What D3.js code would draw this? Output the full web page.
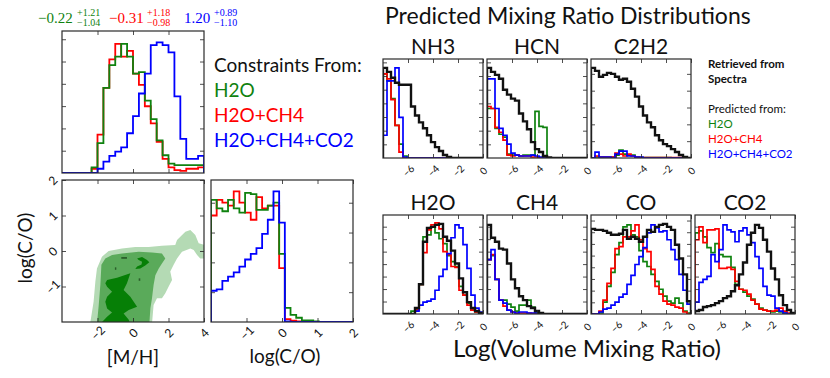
<!DOCTYPE html>
<html>
<head>
<meta charset="utf-8">
<style>
body { margin:0; background:#fff; }
text { font-family: Lato, "Open Sans", sans-serif; }
.num { font-family: "Liberation Serif", "DejaVu Serif", serif; }
</style>
<script src="https://cdnjs.cloudflare.com/ajax/libs/d3/7.8.5/d3.min.js"></script>
</head>
<body>
<script>
// ---- data (bin heights as fraction of the panel height) ----
var mhGreen = [0,0,0,0,0,0.04,0.21,0.60,0.76,0.82,0.91,0.82,0.70,0.71,0.51,0.38,0.23,0.125,0.066,0.055,0.055,0.055,0.055,0.055];
var mhRed   = [0,0,0,0,0,0.03,0.27,0.60,0.80,0.91,0.82,0.86,0.70,0.62,0.47,0.35,0.22,0.10,0.04,0.02,0.015,0.03,0.03,0.04];
var mhBlue  = [0,0,0,0,0,0,0.03,0.08,0.12,0.15,0.18,0.28,0.40,0.56,0.70,0.90,0.92,0.90,0.85,0.54,0.24,0.10,0.10,0.12];

var coGreen = [0.86,0.80,0.78,0.86,0.80,0.77,0.91,0.90,0.79,0.79,0.82,0.84,0.48,0.10,0.05,0.03,0.012,0.012,0.005,0,0,0,0,0,0];
var coRed   = [0.75,0.86,0.84,0.82,0.92,0.84,0.77,0.72,0.88,0.80,0.82,0.82,0.38,0.02,0.01,0.005,0,0,0,0,0,0,0,0,0];
var coBlue  = [0.22,0.23,0.29,0.32,0.35,0.39,0.44,0.48,0.52,0.62,0.72,0.92,0.70,0.005,0,0,0,0,0,0,0,0,0,0,0];

var summaries = [
  {med:"\u22120.22", up:"+1.21", lo:"\u22121.04"},
  {med:"\u22120.31", up:"+1.18", lo:"\u22120.98"},
  {med:"1.20", up:"+0.89", lo:"\u22121.10"}
];

// contour regions in ([M/H], log C/O)
var contourLight = [[-2.40,-2.0],[-2.22,-1.43],[-2.12,-0.86],[-2.03,-0.49],[-1.75,-0.16],[-1.37,0.0],[-0.62,0.07],[0.13,0.11],[0.88,0.11],[1.63,0.15],[2.38,0.17],[2.48,0.31],[2.95,0.54],[3.23,0.59],[3.51,0.45],[3.70,0.22],[4.05,0.17],[4.05,-0.21],[3.79,-0.21],[3.61,-0.11],[3.42,0.03],[3.23,0.07],[2.76,-0.02],[2.48,-0.21],[2.29,-0.39],[2.10,-0.58],[2.20,-0.82],[2.01,-1.0],[1.82,-1.19],[1.63,-1.33],[1.35,-1.33],[1.16,-1.52],[1.07,-2.05],[-2.40,-2.05]];
var contourMid = [[-2.03,-2.05],[-1.93,-1.52],[-1.84,-0.96],[-1.78,-0.39],[-1.56,-0.21],[-1.18,-0.11],[-0.62,-0.07],[0.32,-0.02],[1.07,-0.04],[1.63,-0.07],[1.82,-0.21],[1.63,-0.35],[1.45,-0.49],[1.26,-0.68],[1.16,-0.96],[1.07,-1.33],[0.98,-1.61],[0.92,-2.05]];
var contourDark1 = [[-1.46,-0.82],[-0.90,-0.75],[-0.15,-0.63],[-0.34,-0.91],[-0.53,-1.10],[-0.15,-1.29],[0.23,-1.57],[-0.24,-1.66],[-0.53,-1.76],[-0.24,-1.94],[-0.15,-2.05],[-1.84,-2.05],[-1.46,-1.85],[-1.18,-1.73],[-1.46,-1.62],[-1.56,-1.43],[-1.46,-1.29],[-1.18,-1.15],[-1.46,-1.01],[-1.56,-0.91]];
var contourDark2 = [[0.23,-0.21],[0.51,-0.17],[0.79,-0.25],[0.92,-0.32],[0.69,-0.41],[0.41,-0.49],[0.13,-0.51],[0.23,-0.44],[0.48,-0.38],[0.51,-0.30],[0.32,-0.25]];
var contourSpecks = [
  [[-0.66,-0.17],[-0.34,-0.17],[-0.34,-0.22],[-0.66,-0.22]],
  [[-1.02,-0.46],[-0.94,-0.46],[-0.94,-0.53],[-1.02,-0.53]],
  [[0.32,-0.77],[0.41,-0.77],[0.41,-0.84],[0.32,-0.84]]
];

var nh3Black = [0.91,0.87,0.81,0.76,0.74,0.74,0.74,0.52,0.43,0.36,0.30,0.23,0.16,0.11,0.07,0.03,0.01,0,0,0,0,0,0,0,0];
var nh3Green = [0.85,0.78,0.60,0.33,0.14,0.02,0,0,0,0,0,0,0,0,0,0,0,0,0,0,0,0,0,0,0];
var nh3Red   = [0.85,0.80,0.59,0.33,0.06,0,0,0,0,0,0,0,0,0,0,0,0,0,0,0,0,0,0,0,0];
var nh3Blue  = [0.23,0.78,0.78,0.91,0.41,0.01,0,0,0,0,0,0,0,0,0,0,0,0,0,0,0,0,0,0,0];

var hcnBlack = [0.91,0.87,0.84,0.80,0.69,0.64,0.60,0.58,0.45,0.37,0.29,0.16,0.09,0.06,0.02,0.005,0,0,0,0,0,0,0,0,0];
var hcnGreen = [0.50,0.50,0.30,0.24,0.21,0.04,0.03,0.03,0.02,0.03,0.03,0.03,0.47,0.32,0.31,0,0,0,0,0,0,0,0,0,0];
var hcnRed   = [0.52,0.50,0.31,0.26,0.18,0.03,0.02,0.03,0.02,0.02,0.02,0.01,0.01,0,0,0,0,0,0,0,0,0,0,0,0];
var hcnBlue  = [0.80,0.80,0.50,0.30,0.23,0.14,0.05,0.03,0.02,0.02,0.02,0.03,0.02,0.01,0,0,0,0,0,0,0,0,0,0,0];

var c2h2Black = [0.91,0.88,0.82,0.84,0.86,0.85,0.82,0.79,0.80,0.77,0.70,0.62,0.52,0.43,0.36,0.31,0.23,0.18,0.14,0.12,0.09,0.06,0.03,0.01,0];
var c2h2Green = [0,0.01,0.01,0.01,0.01,0.01,0.03,0.08,0.04,0.03,0.03,0.01,0.005,0.005,0.005,0.005,0.005,0.005,0.005,0.005,0,0,0,0,0];
var c2h2Red   = [0,0.02,0.01,0.01,0.01,0.01,0.05,0.04,0.02,0.04,0.02,0.01,0.005,0.005,0.005,0.005,0.005,0.005,0.005,0.005,0.005,0.005,0.005,0.005,0];
var c2h2Blue  = [0,0.06,0.01,0.01,0.01,0,0.04,0.07,0.07,0.02,0.02,0.01,0.01,0,0,0,0,0,0,0,0,0,0,0,0];

var h2oBlack = [0,0,0,0,0,0,0,0,0.06,0.30,0.73,0.87,0.88,0.90,0.91,0.78,0.74,0.64,0.51,0.36,0.22,0.12,0.06,0.03,0.01];
var h2oGreen = [0,0,0,0,0,0,0,0.03,0.05,0.30,0.78,0.80,0.88,0.82,0.76,0.71,0.59,0.53,0.48,0.28,0.19,0.11,0.04,0.02,0.01];
var h2oRed   = [0,0,0,0,0,0,0,0,0.04,0.30,0.62,0.85,0.90,0.92,0.86,0.63,0.60,0.48,0.47,0.24,0.19,0.09,0.04,0.02,0];
var h2oBlue  = [0,0,0,0,0,0,0,0,0.03,0.09,0.12,0.13,0.15,0.24,0.38,0.45,0.61,0.77,0.90,0.87,0.70,0.46,0.19,0.06,0.02];

var ch4Black = [0.90,0.77,0.73,0.66,0.65,0.51,0.35,0.26,0.18,0.14,0.08,0.06,0.03,0.01,0,0,0,0,0,0,0,0,0,0,0];
var ch4Green = [0.55,0.59,0.35,0.14,0.14,0.10,0.07,0.03,0.09,0.09,0.14,0.07,0.01,0,0,0,0,0,0,0,0,0,0,0,0];
var ch4Red   = [0.55,0.60,0.35,0.14,0.08,0.04,0.02,0.01,0.01,0.01,0.01,0.005,0,0,0,0,0,0,0,0,0,0,0,0,0];
var ch4Blue  = [0.55,0.65,0.35,0.14,0.11,0.04,0.02,0.01,0.02,0.02,0.01,0.01,0.01,0,0,0,0,0,0,0,0,0,0,0,0];

var coxBlack = [0.86,0.85,0.85,0.84,0.82,0.80,0.80,0.81,0.85,0.76,0.78,0.76,0.73,0.78,0.85,0.83,0.88,0.90,0.91,0.88,0.85,0.70,0.56,0.40,0.13];
var coxGreen = [0,0,0.01,0.12,0.28,0.42,0.60,0.72,0.88,0.90,0.80,0.78,0.64,0.53,0.48,0.40,0.33,0.25,0.18,0.13,0.11,0.16,0.11,0.03,0.01];
var coxRed   = [0,0,0.03,0.14,0.31,0.46,0.66,0.68,0.78,0.78,0.84,0.90,0.75,0.66,0.63,0.45,0.28,0.20,0.13,0.10,0.09,0.07,0.06,0.02,0];
var coxBlue  = [0,0,0.02,0.05,0.06,0.09,0.12,0.17,0.20,0.30,0.39,0.50,0.58,0.67,0.82,0.90,0.87,0.83,0.84,0.75,0.65,0.55,0.40,0.24,0.10];

var co2Black = [0.03,0.04,0.07,0.08,0.09,0.11,0.13,0.16,0.18,0.23,0.29,0.40,0.52,0.70,0.82,0.90,0.87,0.75,0.63,0.46,0.35,0.19,0.09,0.04,0.01];
var co2Green = [0.82,0.84,0.78,0.67,0.62,0.71,0.60,0.58,0.58,0.47,0.30,0.25,0.22,0.18,0.15,0.10,0.06,0.04,0.03,0.02,0.03,0.02,0.01,0,0];
var co2Red   = [0.75,0.88,0.72,0.85,0.85,0.86,0.46,0.46,0.47,0.45,0.33,0.25,0.24,0.20,0.14,0.10,0.05,0.04,0.03,0.03,0.04,0.06,0.03,0.01,0];
var co2Blue  = [0.12,0.32,0.35,0.38,0.60,0.53,0.65,0.90,0.85,0.83,0.73,0.84,0.87,0.80,0.72,0.58,0.46,0.28,0.19,0.18,0.06,0.03,0.01,0,0];

var species = [
  {name:"NH3",  k:nh3Black,  g:nh3Green,  r:nh3Red,  b:nh3Blue,  yt:0.138},
  {name:"HCN",  k:hcnBlack,  g:hcnGreen,  r:hcnRed,  b:hcnBlue,  yt:0.138},
  {name:"C2H2", k:c2h2Black, g:c2h2Green, r:c2h2Red, b:c2h2Blue, yt:0.17},
  {name:"H2O",  k:h2oBlack,  g:h2oGreen,  r:h2oRed,  b:h2oBlue,  yt:0.126},
  {name:"CH4",  k:ch4Black,  g:ch4Green,  r:ch4Red,  b:ch4Blue,  yt:0.126},
  {name:"CO",   k:coxBlack,  g:coxGreen,  r:coxRed,  b:coxBlue,  yt:0.118},
  {name:"CO2",  k:co2Black,  g:co2Green,  r:co2Red,  b:co2Blue,  yt:0.126}
];

var legendLabels = ["H2O", "H2O+CH4", "H2O+CH4+CO2"];
var GREEN = "#0f820f", RED = "#ff0000", BLUE = "#0000ff";
var legendColors = [GREEN, RED, BLUE];

var svg = d3.select("body").append("svg")
  .attr("width", 830).attr("height", 378);
var defs = svg.append("defs");
var clipN = 0;

function fmt(d) { return d3.format("d")(d); }

// a framed axes box with inward ticks on all sides
function makePanel(left, top, w, h, xDom, yDom) {
  var g = svg.append("g").attr("transform", "translate(" + left + "," + top + ")");
  var x = d3.scaleLinear().domain(xDom).range([0, w]);
  var y = d3.scaleLinear().domain(yDom).range([h, 0]);
  var id = "clip" + (clipN++);
  defs.append("clipPath").attr("id", id).append("rect").attr("width", w).attr("height", h);
  var plot = g.append("g").attr("clip-path", "url(#" + id + ")");
  return {g:g, plot:plot, x:x, y:y, w:w, h:h};
}

function finishPanel(p, xTicks, xLab, yTicks, yLab, labSize, xOff) {
  var g = p.g;
  var bottom = g.append("g").attr("transform", "translate(0," + p.h + ")")
    .call(d3.axisBottom(p.x).tickValues(xTicks).tickSizeInner(-4).tickSizeOuter(0).tickFormat(xLab ? fmt : ""));
  g.append("g").call(d3.axisTop(p.x).tickValues(xTicks).tickSizeInner(-4).tickSizeOuter(0).tickFormat(""));
  var leftAx = g.append("g")
    .call(d3.axisLeft(p.y).tickValues(yTicks).tickSizeInner(-4).tickSizeOuter(0).tickFormat(yLab ? fmt : ""));
  g.append("g").attr("transform", "translate(" + p.w + ",0)")
    .call(d3.axisRight(p.y).tickValues(yTicks).tickSizeInner(-4).tickSizeOuter(0).tickFormat(""));
  g.selectAll(".domain").remove();
  g.selectAll(".tick line").attr("stroke", "#222").attr("stroke-width", 0.8);
  bottom.selectAll("text")
    .attr("y", 0).attr("dy", "0.35em").attr("text-anchor", "middle")
    .attr("transform", "translate(0," + xOff + ") rotate(-45)")
    .style("font-family", "Lato, sans-serif").style("font-size", labSize + "px").attr("fill", "#111");
  leftAx.selectAll("text")
    .attr("x", 0).attr("dy", "0.35em").attr("text-anchor", "middle")
    .attr("transform", "translate(-9,0) rotate(-45)")
    .style("font-family", "Lato, sans-serif").style("font-size", labSize + "px").attr("fill", "#111");
  g.append("rect").attr("width", p.w).attr("height", p.h)
    .attr("fill", "none").attr("stroke", "#2a2a2a").attr("stroke-width", 1.2);
}

function stepHist(p, vals, x0, bw, color, lw) {
  var pts = [[x0, 0]];
  vals.forEach(function(v, i) { pts.push([x0 + i * bw, v]); });
  pts.push([x0 + vals.length * bw, vals[vals.length - 1]]);
  pts.push([x0 + vals.length * bw, 0]);
  var line = d3.line().curve(d3.curveStepAfter)
    .x(function(d) { return p.x(d[0]); })
    .y(function(d) { return p.y(d[1]); });
  p.plot.append("path").attr("d", line(pts))
    .attr("fill", "none").attr("stroke", color).attr("stroke-width", lw)
    .attr("stroke-linejoin", "miter");
}

function ticksBy(step) {
  var t = [];
  for (var v = step; v < 0.99; v += step) t.push(v);
  return t;
}

// ---- [M/H] histogram ----
var pm = makePanel(62, 31, 142, 142, [-4, 4], [0, 1]);
stepHist(pm, mhRed, -4, 1/3, RED, 1.8);
stepHist(pm, mhGreen, -4, 1/3, GREEN, 1.8);
stepHist(pm, mhBlue, -4, 1/3, BLUE, 1.8);
finishPanel(pm, [-2, 0, 2], false, ticksBy(0.157), false, 11, 0);

// ---- contour panel ----
var pc = makePanel(62, 180, 142, 142, [-4, 4], [-2, 2]);
var poly = d3.line().x(function(d) { return pc.x(d[0]); }).y(function(d) { return pc.y(d[1]); });
pc.plot.append("path").attr("d", poly(contourLight) + "Z").attr("fill", "#b4dab4");
pc.plot.append("path").attr("d", poly(contourMid) + "Z").attr("fill", "#5aaa5a");
pc.plot.append("path").attr("d", poly(contourDark1) + "Z").attr("fill", "#067f06");
pc.plot.append("path").attr("d", poly(contourDark2) + "Z").attr("fill", "#067f06");
contourSpecks.forEach(function(s) {
  pc.plot.append("path").attr("d", poly(s) + "Z").attr("fill", "#2b5e2b");
});
finishPanel(pc, [-2, 0, 2, 4], true, [-1, 0, 1, 2], true, 12, 11);

svg.append("text").attr("x", 133).attr("y", 364).attr("text-anchor", "middle")
  .style("font-size", "19px").attr("fill", "#111").text("[M/H]");
svg.append("text").attr("transform", "translate(32,248) rotate(-90)").attr("text-anchor", "middle")
  .style("font-size", "19px").attr("fill", "#111").text("log(C/O)");

// ---- log(C/O) histogram ----
var pl = makePanel(211, 180, 142, 142, [-2, 2], [0, 1]);
stepHist(pl, coRed, -2, 0.16, RED, 1.8);
stepHist(pl, coGreen, -2, 0.16, GREEN, 1.8);
stepHist(pl, coBlue, -2, 0.16, BLUE, 1.8);
finishPanel(pl, [-1, 0, 1, 2], true, ticksBy(0.21), false, 12, 11);
svg.append("text").attr("x", 285).attr("y", 363).attr("text-anchor", "middle")
  .style("font-size", "19px").attr("fill", "#111").text("log(C/O)");

// ---- summary numbers above ----
var numX = [[38, 77], [109, 147], [184, 214]];
summaries.forEach(function(s, i) {
  var c = legendColors[i];
  svg.append("text").attr("class", "num").attr("x", numX[i][0]).attr("y", 23)
    .style("font-size", "15px").attr("fill", c).text(s.med);
  svg.append("text").attr("class", "num").attr("x", numX[i][1]).attr("y", 16)
    .style("font-size", "10px").attr("fill", c).text(s.up);
  svg.append("text").attr("class", "num").attr("x", numX[i][1]).attr("y", 26)
    .style("font-size", "10px").attr("fill", c).text(s.lo);
});

// ---- legend ----
svg.append("text").attr("x", 214).attr("y", 72).style("font-size", "19px").attr("fill", "#111")
  .text("Constraints From:");
legendLabels.forEach(function(t, i) {
  svg.append("text").attr("x", 214).attr("y", 97 + i * 25).style("font-size", "19px")
    .attr("fill", legendColors[i]).text(t);
});

// ---- predicted mixing ratio panels ----
svg.append("text").attr("x", 385).attr("y", 24).style("font-size", "23px").attr("fill", "#111")
  .text("Predicted Mixing Ratio Distributions");

var colLefts = [383, 487, 591, 695];
var rowTops = [59, 215];
species.forEach(function(s, i) {
  var row = i < 3 ? 0 : 1, col = i < 3 ? i : i - 3;
  var p = makePanel(colLefts[col], rowTops[row], 100, 99, [-8, 0], [0, 1]);
  stepHist(p, s.g, -8, 0.32, GREEN, 1.7);
  stepHist(p, s.r, -8, 0.32, RED, 1.7);
  stepHist(p, s.b, -8, 0.32, BLUE, 1.7);
  stepHist(p, s.k, -8, 0.32, "#111", 2.4);
  finishPanel(p, [-6, -4, -2, 0], true, ticksBy(s.yt), false, 10, 13);
  svg.append("text").attr("x", colLefts[col] + 50).attr("y", rowTops[row] - 5)
    .attr("text-anchor", "middle").style("font-size", "21px").attr("fill", "#111").text(s.name);
});

svg.append("text").attr("x", 587).attr("y", 357).attr("text-anchor", "middle")
  .style("font-size", "24px").attr("fill", "#111").text("Log(Volume Mixing Ratio)");

// right legend
svg.append("text").attr("x", 708).attr("y", 68).style("font-size", "11.5px").style("font-weight", "bold")
  .attr("fill", "#111").text("Retrieved from");
svg.append("text").attr("x", 708).attr("y", 83).style("font-size", "11.5px").style("font-weight", "bold")
  .attr("fill", "#111").text("Spectra");
svg.append("text").attr("x", 708).attr("y", 113).style("font-size", "11.5px")
  .attr("fill", "#111").text("Predicted from:");
legendLabels.forEach(function(t, i) {
  svg.append("text").attr("x", 708).attr("y", 128 + i * 15).style("font-size", "11.5px")
    .attr("fill", legendColors[i]).text(t);
});
</script>
</body>
</html>
